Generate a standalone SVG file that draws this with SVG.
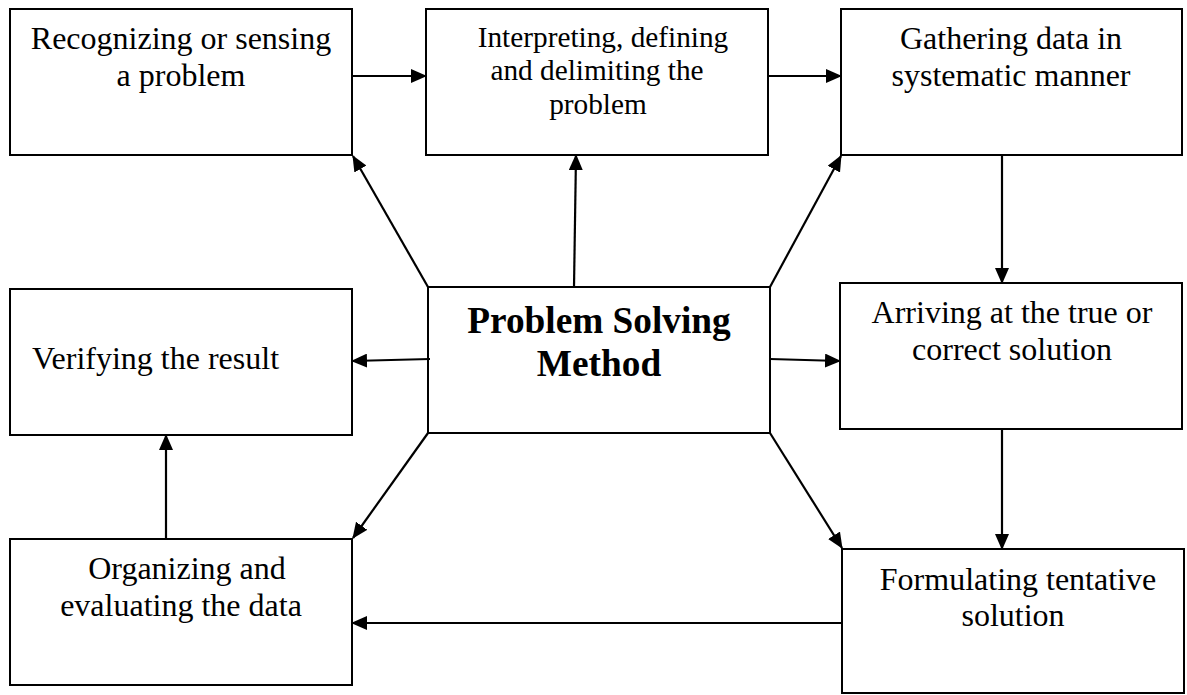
<svg xmlns="http://www.w3.org/2000/svg" width="1187" height="695" viewBox="0 0 1187 695">
<style>
.box{fill:#fff;stroke:#000;stroke-width:2}
.t{font-family:"Liberation Serif","Times New Roman",serif;font-size:32px;fill:#000;text-anchor:middle}
.s{font-size:29.3px}
.b{font-weight:bold;font-size:37.3px}
.c{stroke:#000;stroke-width:2.2;fill:none;marker-end:url(#ah)}
</style>
<defs>
<marker id="ah" markerUnits="userSpaceOnUse" markerWidth="16" markerHeight="14" refX="15" refY="7" orient="auto">
<path d="M0,0 L16,7 L0,14 z" fill="#000"/>
</marker>
</defs>
<g id="n-recognizing">
<rect class="box" x="10" y="9" width="342" height="146"/>
<text class="t" x="181" y="49">Recognizing or sensing</text>
<text class="t" x="181" y="86">a problem</text>
</g>
<g id="n-interpreting">
<rect class="box" x="426" y="9" width="342" height="146"/>
<text class="t s" x="603" y="47">Interpreting, defining</text>
<text class="t s" x="597" y="80">and delimiting the</text>
<text class="t s" x="598" y="114">problem</text>
</g>
<g id="n-gathering">
<rect class="box" x="841" y="9" width="341" height="146"/>
<text class="t" x="1011" y="49">Gathering data in</text>
<text class="t" x="1011" y="86">systematic manner</text>
</g>
<g id="n-verifying">
<rect class="box" x="10" y="289" width="342" height="146"/>
<text class="t" x="32" y="369" style="text-anchor:start">Verifying the result</text>
</g>
<g id="n-center">
<rect class="box" x="428" y="287" width="342" height="146"/>
<text class="t b" x="599" y="333">Problem Solving</text>
<text class="t b" x="599" y="376">Method</text>
</g>
<g id="n-arriving">
<rect class="box" x="840" y="283" width="342" height="146"/>
<text class="t" x="1012" y="323">Arriving at the true or</text>
<text class="t" x="1012" y="360">correct solution</text>
</g>
<g id="n-organizing">
<rect class="box" x="10" y="539" width="342" height="146"/>
<text class="t" x="187" y="579">Organizing and</text>
<text class="t" x="181" y="616">evaluating the data</text>
</g>
<g id="n-formulating">
<rect class="box" x="842" y="549" width="342" height="144"/>
<text class="t" x="1018" y="590">Formulating tentative</text>
<text class="t" x="1013" y="626">solution</text>
</g>
<g id="connectors">
<line class="c" x1="352" y1="76" x2="426" y2="76"/>
<line class="c" x1="768" y1="76" x2="841" y2="76"/>
<line class="c" x1="1002" y1="155" x2="1002" y2="283"/>
<line class="c" x1="1002" y1="429" x2="1002" y2="549"/>
<line class="c" x1="842" y1="623" x2="352" y2="623"/>
<line class="c" x1="166" y1="539" x2="166" y2="435"/>
<line class="c" x1="428" y1="287" x2="353" y2="156"/>
<line class="c" x1="574" y1="287" x2="576" y2="155"/>
<line class="c" x1="770" y1="287" x2="841" y2="156"/>
<line class="c" x1="430" y1="359" x2="352" y2="361"/>
<line class="c" x1="770" y1="359" x2="840" y2="361"/>
<line class="c" x1="428" y1="433" x2="353" y2="538"/>
<line class="c" x1="770" y1="433" x2="842" y2="548"/>
</g>
</svg>
